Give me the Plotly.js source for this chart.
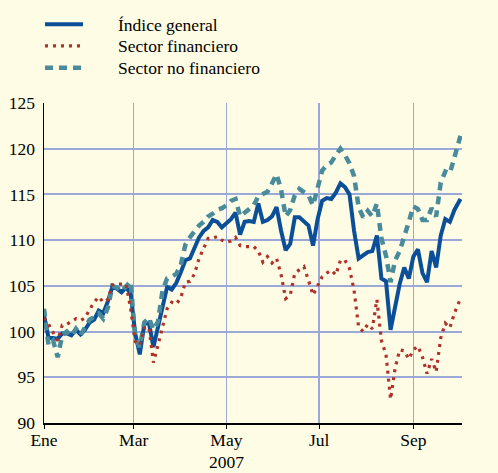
<!DOCTYPE html>
<html>
<head>
<meta charset="utf-8">
<script src="https://cdn.plot.ly/plotly-3.0.1.min.js"></script>
<style>html,body{margin:0;padding:0;background:#fefce4;}</style>
</head>
<body>
<div id="chart" style="width:498px;height:473px;"></div>
<script>
var dates = ["2007-01-01","2007-01-04","2007-01-07","2007-01-10","2007-01-13","2007-01-16","2007-01-19","2007-01-22","2007-01-25","2007-01-28",
"2007-01-31","2007-02-03","2007-02-06","2007-02-09","2007-02-12","2007-02-15","2007-02-18","2007-02-21","2007-02-24","2007-02-27",
"2007-03-02","2007-03-05","2007-03-08","2007-03-11","2007-03-14","2007-03-17","2007-03-20","2007-03-23","2007-03-26","2007-03-29",
"2007-04-01","2007-04-04","2007-04-07","2007-04-10","2007-04-13","2007-04-16","2007-04-19","2007-04-22","2007-04-25","2007-04-28",
"2007-05-01","2007-05-04","2007-05-07","2007-05-10","2007-05-13","2007-05-16","2007-05-19","2007-05-22","2007-05-25","2007-05-28",
"2007-05-31","2007-06-03","2007-06-06","2007-06-09","2007-06-12","2007-06-15","2007-06-18","2007-06-21","2007-06-24","2007-06-27",
"2007-06-30","2007-07-03","2007-07-06","2007-07-09","2007-07-12","2007-07-15","2007-07-18","2007-07-21","2007-07-24","2007-07-27",
"2007-07-30","2007-08-02","2007-08-05","2007-08-08","2007-08-11","2007-08-14","2007-08-17","2007-08-20","2007-08-23","2007-08-26",
"2007-08-29","2007-09-01","2007-09-04","2007-09-07","2007-09-10","2007-09-13","2007-09-16","2007-09-19","2007-09-22","2007-09-25",
"2007-09-28","2007-10-02"];

var indiceGeneral = [101.8,99.3,99.3,99.2,99.8,99.8,99.6,100.2,99.7,100.2,
101.0,101.3,102.3,102.0,103.3,104.9,104.7,104.3,104.8,104.2,
99.8,97.5,100.8,101.0,98.3,100.6,102.8,104.9,104.6,105.3,
106.5,107.8,108.0,109.3,110.3,111.0,111.4,112.2,112.0,111.4,
111.8,112.3,113.0,110.6,112.0,112.1,112.0,114.0,112.0,112.2,
112.6,113.6,111.0,108.9,109.6,112.5,112.5,112.0,111.6,109.4,
112.3,114.3,114.6,114.5,115.2,116.2,115.8,115.0,111.0,108.0,
108.3,108.7,108.8,110.5,105.8,105.5,100.2,103.0,105.2,107.0,
105.8,108.2,109.0,106.4,105.4,108.8,107.0,110.5,112.3,112.0,
113.3,114.5];

var sectorFinanciero = [101.5,100.8,99.9,99.0,100.7,100.8,101.1,101.4,101.2,101.5,
102.4,103.2,103.8,103.2,103.5,105.1,105.2,105.2,105.2,102.5,
98.9,98.5,100.4,100.5,96.6,98.5,100.6,102.5,103.2,103.0,
103.7,105.4,105.5,106.3,108.0,109.2,110.2,110.2,110.4,110.0,
109.8,109.9,110.3,109.4,109.3,109.3,109.3,108.8,107.6,108.2,
107.5,108.0,106.2,103.6,104.0,106.4,106.8,107.1,105.6,104.0,
105.0,106.0,106.4,106.7,106.2,107.8,107.8,106.9,104.5,100.5,
100.0,100.8,100.3,103.5,99.0,97.5,92.6,96.0,98.0,97.9,
97.0,98.0,98.4,97.2,95.4,97.0,95.6,99.3,100.9,100.4,
102.0,103.6];

var sectorNoFinanciero = [102.5,98.5,99.0,97.2,99.6,100.0,99.5,100.3,99.6,100.5,
101.3,101.6,102.0,101.4,102.6,105.0,104.8,104.4,105.0,105.5,
99.3,98.3,101.0,101.5,100.2,101.1,104.5,105.8,106.0,106.3,
107.3,109.5,110.3,111.0,111.6,112.0,112.6,112.9,113.3,113.5,
113.8,114.3,114.5,112.6,113.0,113.3,113.8,114.8,115.0,115.3,
116.2,117.2,115.5,112.6,113.3,114.9,115.6,115.3,114.9,113.8,
115.8,117.6,118.2,118.5,119.3,120.0,119.3,118.4,117.0,113.6,
112.5,113.2,112.6,114.0,110.2,108.3,105.4,107.8,108.8,110.6,
112.0,113.7,113.4,112.2,112.2,113.5,112.6,116.3,117.5,117.3,
119.0,121.4];

var seriesNames = ["Índice general","Sector financiero","Sector no financiero"];
var tickDates = ["2007-01-01","2007-03-01","2007-05-01","2007-07-01","2007-09-01"];
var tickLabels = ["Ene","Mar","May<br>2007","Jul","Sep"];
var yTicks = [90,95,100,105,110,115,120,125];

var serif = "Liberation Serif";
var fs = 17.5;
var bg = "#fefce4";
var grid = "#9ca8d8";

var styles = [
  {color: "#0a4f98", width: 4},
  {color: "#b0302a", width: 3.2, dash: "3px,5px"},
  {color: "#4a8b9b", width: 4.5, dash: "8px,6px"}
];

var traces = [
  {x: dates, y: indiceGeneral, name: seriesNames[0], type: "scatter", mode: "lines", line: styles[0]},
  {x: dates, y: sectorNoFinanciero, name: seriesNames[2], type: "scatter", mode: "lines", line: styles[2]},
  {x: dates, y: sectorFinanciero, name: seriesNames[1], type: "scatter", mode: "lines", line: styles[1]}
];

// legend drawn in paper space (top-left, above the plot)
var W = 418, H = 320, L = 44, T = 103;
function px2x(p) { return (p - L) / W; }
function py2y(p) { return 1 + (T - p) / H; }
var legendRows = [24.3, 45.8, 67.7];
var shapes = [], annotations = [];
for (var i = 0; i < 3; i++) {
  shapes.push({type: "line", xref: "paper", yref: "paper",
    x0: px2x(45), x1: px2x(83), y0: py2y(legendRows[i]), y1: py2y(legendRows[i]),
    line: styles[i]});
  annotations.push({xref: "paper", yref: "paper", x: px2x(116), y: py2y(legendRows[i] + 0.5),
    xanchor: "left", yanchor: "middle", showarrow: false, text: seriesNames[i],
    font: {family: serif, size: fs, color: "#000"}});
}

var tf = {family: serif, size: fs, color: "#000"};
var layout = {
  width: 498, height: 473,
  margin: {l: L, r: 498 - L - W, t: T, b: 473 - T - H},
  paper_bgcolor: bg, plot_bgcolor: bg,
  font: tf,
  showlegend: false,
  shapes: shapes,
  annotations: annotations,
  xaxis: {type: "date", range: ["2007-01-01", "2007-10-03"], tickmode: "array",
          tickvals: tickDates, ticktext: tickLabels, showgrid: true, gridcolor: grid, gridwidth: 1.5,
          showline: true, linecolor: "#000", linewidth: 1.5, ticks: "outside", ticklen: 4,
          tickcolor: "#000", tickfont: tf, zeroline: false, ticklabelstandoff: -4},
  yaxis: {range: [90, 125], tickmode: "array", tickvals: yTicks, showgrid: true, gridcolor: grid,
          gridwidth: 2, showline: true, linecolor: "#000", linewidth: 1.5, ticks: "", zeroline: false,
          tickfont: tf, ticklabelstandoff: 4},
  yaxis2: {range: [90, 125], tickmode: "array", tickvals: yTicks, overlaying: "y", side: "right",
           anchor: "x", showgrid: false, showline: true, linecolor: "#000", linewidth: 1.5, ticks: "",
           zeroline: false, tickfont: tf, ticklabelstandoff: 8}
};

Plotly.newPlot("chart", traces, layout, {displayModeBar: false, staticPlot: true});
</script>
</body>
</html>
